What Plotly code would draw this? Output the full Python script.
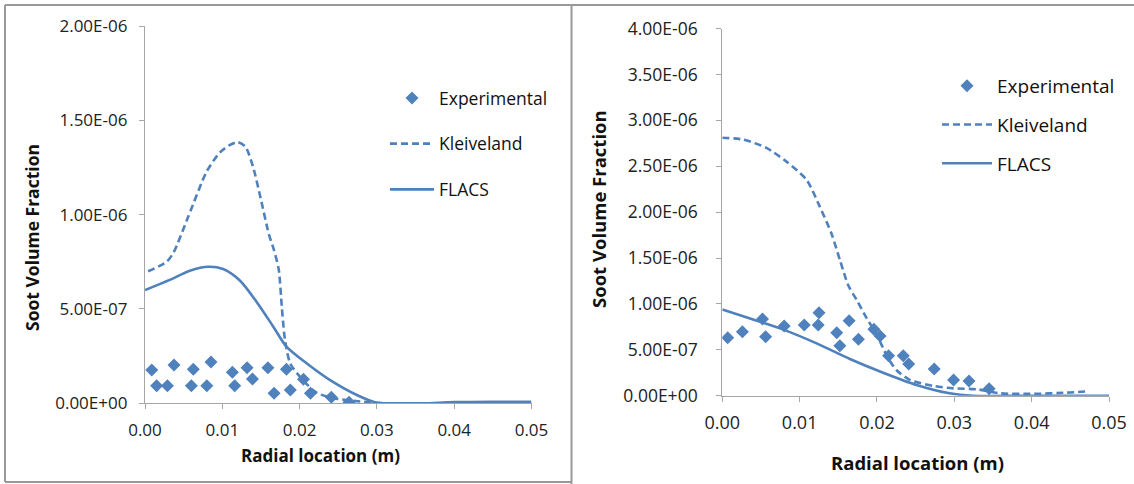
import plotly.graph_objects as go

# ---------------- data ----------------
# Left panel
left_exp_x = [0.00087, 0.0015, 0.0029, 0.00375, 0.0060, 0.00625, 0.0080, 0.00854, 0.0113, 0.0116,
              0.0132, 0.0139, 0.0159, 0.0167, 0.0183, 0.0188, 0.0205, 0.0214, 0.0241, 0.0264]
left_exp_y = [1.77e-7, 0.93e-7, 0.93e-7, 2.03e-7, 0.93e-7, 1.80e-7, 0.93e-7, 2.19e-7, 1.64e-7, 0.93e-7,
              1.89e-7, 1.29e-7, 1.89e-7, 0.53e-7, 1.80e-7, 0.70e-7, 1.27e-7, 0.53e-7, 0.32e-7, 0.05e-7]
left_klv_x = [0.0004, 0.0028, 0.0037, 0.0056, 0.0080, 0.0097, 0.0110, 0.0120, 0.0130, 0.0140, 0.0150,
              0.0160, 0.0167, 0.0173, 0.0177, 0.0181, 0.0188, 0.0205, 0.0222, 0.0244, 0.0282, 0.0310]
left_klv_y = [7.0e-7, 7.5e-7, 8.0e-7, 9.9e-7, 1.23e-6, 1.33e-6, 1.37e-6, 1.385e-6, 1.36e-6, 1.25e-6, 1.08e-6,
              9.0e-7, 8.1e-7, 7.1e-7, 5.1e-7, 3.4e-7, 2.1e-7, 1.2e-7, 5.6e-8, 2.7e-8, 8e-9, 0.0]
left_fl_x = [0.0, 0.0032, 0.0058, 0.0082, 0.0101, 0.0123, 0.0144, 0.0166, 0.0183, 0.0209,
             0.0239, 0.0274, 0.0300, 0.0330, 0.0360, 0.0400, 0.0450, 0.0500]
left_fl_y = [6.0e-7, 6.54e-7, 7.03e-7, 7.24e-7, 7.12e-7, 6.5e-7, 5.4e-7, 4.06e-7, 3.0e-7, 2.12e-7,
             1.24e-7, 4.4e-8, 3e-9, 0.0, 0.0, 6e-9, 8e-9, 8e-9]

# Right panel
right_exp_x = [0.0007, 0.0026, 0.0052, 0.0056, 0.0080, 0.0106, 0.0125, 0.0124, 0.0148, 0.0152, 0.0164,
               0.0176, 0.0196, 0.0204, 0.0215, 0.0234, 0.0241, 0.0274, 0.0299, 0.0319, 0.0345]
right_exp_y = [6.32e-7, 6.97e-7, 8.36e-7, 6.43e-7, 7.59e-7, 7.70e-7, 9.04e-7, 7.70e-7, 6.86e-7, 5.45e-7, 8.17e-7,
               6.14e-7, 7.23e-7, 6.50e-7, 4.36e-7, 4.36e-7, 3.45e-7, 2.91e-7, 1.71e-7, 1.60e-7, 0.76e-7]
right_klv_x = [0.0, 0.0027, 0.0057, 0.0083, 0.0109, 0.0126, 0.0141, 0.0152, 0.0163, 0.0174, 0.0187,
               0.0200, 0.0213, 0.0225, 0.0243, 0.0273, 0.0299, 0.0329, 0.0359, 0.0402, 0.0445, 0.0473]
right_klv_y = [2.81e-6, 2.79e-6, 2.70e-6, 2.55e-6, 2.35e-6, 2.06e-6, 1.77e-6, 1.48e-6, 1.20e-6, 1.04e-6, 8.4e-7,
               6.6e-7, 4.3e-7, 2.8e-7, 1.7e-7, 1.06e-7, 8e-8, 7e-8, 2.6e-8, 2e-8, 3.3e-8, 4.8e-8]
right_fl_x = [0.0, 0.0036, 0.0079, 0.0122, 0.0165, 0.0208, 0.0251, 0.0294, 0.0324, 0.0400, 0.0500]
right_fl_y = [9.4e-7, 8.4e-7, 7.2e-7, 5.7e-7, 4.0e-7, 2.5e-7, 1.17e-7, 2.6e-8, 0.0, 0.0, 0.0]

x_ticks = [0.0, 0.01, 0.02, 0.03, 0.04, 0.05]
x_ticktext = ["0.00", "0.01", "0.02", "0.03", "0.04", "0.05"]
left_y_ticks = [0.0, 5e-7, 1e-6, 1.5e-6, 2e-6]
left_y_ticktext = ["0.00E+00", "5.00E-07", "1.00E-06", "1.50E-06", "2.00E-06"]
right_y_ticks = [0.0, 5e-7, 1e-6, 1.5e-6, 2e-6, 2.5e-6, 3e-6, 3.5e-6, 4e-6]
right_y_ticktext = ["0.00E+00", "5.00E-07", "1.00E-06", "1.50E-06", "2.00E-06",
                    "2.50E-06", "3.00E-06", "3.50E-06", "4.00E-06"]

# ---------------- figure ----------------
W, H = 1134, 484
BLUE = "#4F81BD"
FONT = "Open Sans"
fig = go.Figure()

def add_panel(ex, ey, kx, ky, fx, fy, xa, ya, leg):
    fig.add_trace(go.Scatter(x=ex, y=ey, mode="markers", name="Experimental",
                             marker=dict(symbol="diamond", size=10, color=BLUE),
                             xaxis=xa, yaxis=ya, legend=leg, legendgroup=leg + "a"))
    fig.add_trace(go.Scatter(x=kx, y=ky, mode="lines", name="Kleiveland",
                             line=dict(color=BLUE, width=2.6, dash="7px,4px", shape="spline", smoothing=0.7),
                             xaxis=xa, yaxis=ya, legend=leg, legendgroup=leg + "b"))
    fig.add_trace(go.Scatter(x=fx, y=fy, mode="lines", name="FLACS",
                             line=dict(color=BLUE, width=2.6, shape="spline", smoothing=0.8),
                             xaxis=xa, yaxis=ya, legend=leg, legendgroup=leg + "c"))

add_panel(left_exp_x, left_exp_y, left_klv_x, left_klv_y, left_fl_x, left_fl_y, "x", "y", "legend")
add_panel(right_exp_x, right_exp_y, right_klv_x, right_klv_y, right_fl_x, right_fl_y, "x2", "y2", "legend2")

def px(v):
    return v / W

def py(v):
    return 1 - v / H

axis_common = dict(showgrid=False, zeroline=False, showline=True, linecolor="#A6A6A6", linewidth=1.3,
                   ticks="outside", ticklen=5, tickcolor="#A6A6A6", automargin=False)

fig.update_layout(
    width=W, height=H, margin=dict(l=0, r=0, t=0, b=0, autoexpand=False),
    paper_bgcolor="white", plot_bgcolor="white",
    showlegend=True,
    xaxis=dict(domain=[px(145), px(531.5)], range=[0, 0.05], tickvals=x_ticks, ticktext=x_ticktext,
               anchor="y", ticklabelstandoff=6, tickfont=dict(family=FONT, size=17, color="#222"), **axis_common),
    yaxis=dict(domain=[py(403.3), py(26)], range=[0, 2e-6], tickvals=left_y_ticks, ticktext=left_y_ticktext,
               anchor="x", ticklabelstandoff=8, tickfont=dict(family=FONT, size=17, color="#222"), **axis_common),
    xaxis2=dict(domain=[px(722.3), px(1109)], range=[0, 0.05], tickvals=x_ticks, ticktext=x_ticktext,
                anchor="y2", ticklabelstandoff=6, tickfont=dict(family=FONT, size=18, color="#222"), **axis_common),
    yaxis2=dict(domain=[py(395.7), py(28.5)], range=[0, 4e-6], tickvals=right_y_ticks,
                ticktext=right_y_ticktext, anchor="x2", ticklabelstandoff=15,
                tickfont=dict(family=FONT, size=17.5, color="#222"), **axis_common),
    legend=dict(x=px(385), y=py(80), xanchor="left", yanchor="top", bgcolor="rgba(0,0,0,0)",
                font=dict(family=FONT, size=17.5, color="#111"), tracegroupgap=20, itemwidth=44),
    legend2=dict(x=px(937), y=py(67), xanchor="left", yanchor="top", bgcolor="rgba(0,0,0,0)",
                 font=dict(family=FONT, size=19, color="#111"), tracegroupgap=11, itemwidth=50),
)

# axis titles
ann = dict(xref="paper", yref="paper", showarrow=False, xanchor="center", yanchor="middle")
fig.add_annotation(text="<b>Soot Volume Fraction</b>", x=px(32), y=py(238), textangle=-90,
                   font=dict(family=FONT, size=17.5, color="#111"), **ann)
fig.add_annotation(text="<b>Radial location (m)</b>", x=px(320), y=py(455),
                   font=dict(family=FONT, size=17, color="#111"), **ann)
fig.add_annotation(text="<b>Soot Volume Fraction</b>", x=px(598), y=py(209), textangle=-90,
                   font=dict(family=FONT, size=18.5, color="#111"), **ann)
fig.add_annotation(text="<b>Radial location (m)</b>", x=px(917), y=py(462),
                   font=dict(family=FONT, size=18.5, color="#111"), **ann)

# panel frames
frame = dict(color="#999999", width=2)
fig.add_shape(type="line", xref="paper", yref="paper", x0=px(5), x1=1, y0=py(5), y1=py(5), line=frame)
fig.add_shape(type="line", xref="paper", yref="paper", x0=px(5), x1=px(5), y0=py(5), y1=py(482), line=frame)
fig.add_shape(type="line", xref="paper", yref="paper", x0=px(5), x1=px(571.5), y0=py(482), y1=py(482), line=frame)
fig.add_shape(type="line", xref="paper", yref="paper", x0=px(571.5), x1=px(571.5), y0=py(5), y1=0, line=frame)

fig.write_html("out.html")
